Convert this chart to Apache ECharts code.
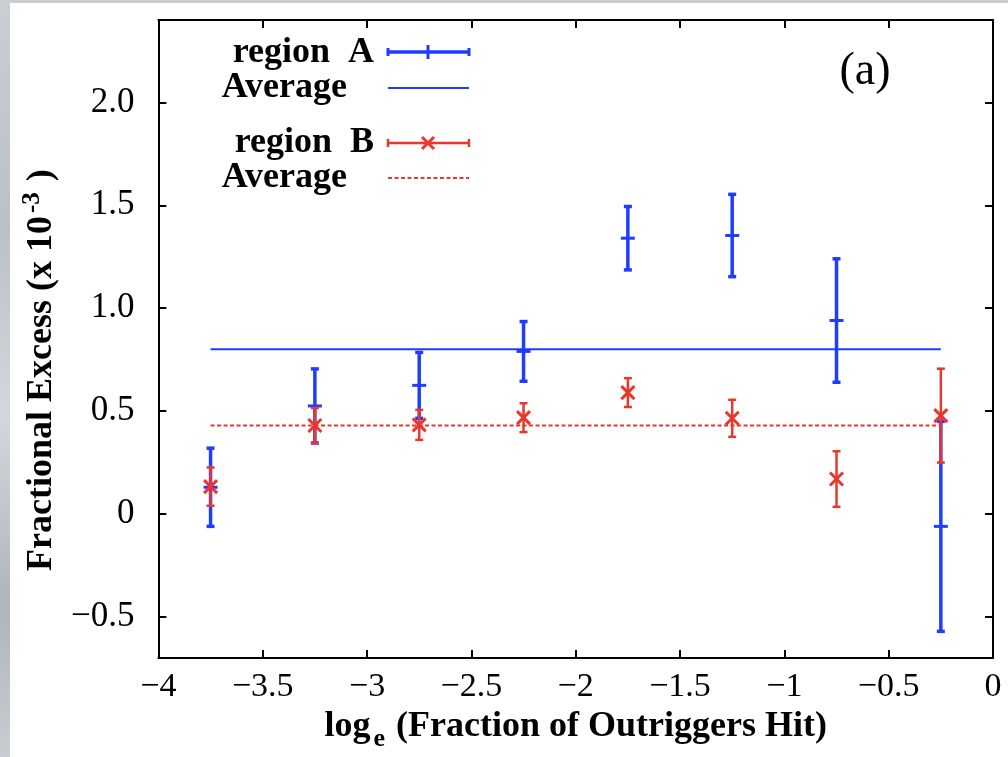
<!DOCTYPE html>
<html>
<head>
<meta charset="utf-8">
<script src="https://cdn.jsdelivr.net/npm/echarts@6/dist/echarts.min.js"></script>
<style>
  html, body { margin: 0; padding: 0; width: 1008px; height: 757px; overflow: hidden;
    background: linear-gradient(180deg, #c9ced3 0%, #b9c0c6 30%, #d3d7db 55%, #aeb5bb 80%, #c8cdd1 100%); }
  #chart { position: absolute; left: 10px; top: 3px; width: 998px; height: 754px; background: #ffffff; }
</style>
</head>
<body>
<div id="chart"></div>
<script>
// ---- data ----
const xValues    = [-3.75, -3.25, -2.75, -2.25, -1.75, -1.25, -0.75, -0.25];
const regionA    = [0.13, 0.525, 0.625, 0.79, 1.34, 1.353, 0.94, -0.06];
const regionAErr = [0.19, 0.18, 0.16, 0.145, 0.154, 0.2, 0.30, 0.51];
const regionB    = [0.133, 0.43, 0.433, 0.468, 0.59, 0.465, 0.17, 0.478];
const regionBErr = [0.093, 0.085, 0.073, 0.07, 0.07, 0.09, 0.135, 0.228];
const averageA = 0.80;
const averageB = 0.43;
const yTickValues = [-0.5, 0, 0.5, 1.0, 1.5, 2.0];
const yTickLabels = ['\u22120.5', '0', '0.5', '1.0', '1.5', '2.0'];

const BLUE = '#1f3dff';
const RED = '#e8372c';
const SERIF = '"Liberation Serif", "Times New Roman", serif';

const dataA = xValues.map((x, i) => [x, regionA[i], regionA[i] - regionAErr[i], regionA[i] + regionAErr[i]]);
const dataB = xValues.map((x, i) => [x, regionB[i], regionB[i] - regionBErr[i], regionB[i] + regionBErr[i]]);
const avgAData = [[xValues[0], averageA], [xValues[xValues.length - 1], averageA]];
const avgBData = [[xValues[0], averageB], [xValues[xValues.length - 1], averageB]];

function errRender(color, lw, capHalf, marker) {
  return function (params, api) {
    const x = api.value(0), y = api.value(1), lo = api.value(2), hi = api.value(3);
    const pc = api.coord([x, y]), pl = api.coord([x, lo]), ph = api.coord([x, hi]);
    const st = { stroke: color, lineWidth: lw };
    const children = [
      { type: 'line', shape: { x1: pl[0], y1: pl[1], x2: ph[0], y2: ph[1] }, style: st },
      { type: 'line', shape: { x1: pl[0] - capHalf, y1: pl[1], x2: pl[0] + capHalf, y2: pl[1] }, style: st },
      { type: 'line', shape: { x1: ph[0] - capHalf, y1: ph[1], x2: ph[0] + capHalf, y2: ph[1] }, style: st }
    ];
    if (marker === 'plus') {
      children.push({ type: 'line', shape: { x1: pc[0] - 7, y1: pc[1], x2: pc[0] + 7, y2: pc[1] }, style: { stroke: color, lineWidth: 3 } });
    } else {
      const s = 6.5;
      children.push({ type: 'line', shape: { x1: pc[0] - s, y1: pc[1] - s, x2: pc[0] + s, y2: pc[1] + s }, style: { stroke: color, lineWidth: 3 } });
      children.push({ type: 'line', shape: { x1: pc[0] - s, y1: pc[1] + s, x2: pc[0] + s, y2: pc[1] - s }, style: { stroke: color, lineWidth: 3 } });
    }
    return { type: 'group', children: children };
  };
}

const chart = echarts.init(document.getElementById('chart'), null, { renderer: 'canvas' });

const legendFont = { fontFamily: SERIF, fontWeight: 'bold', fontSize: 36, fill: '#000' };
const graphics = [
  { type: 'text', x: 364, y: 50, style: Object.assign({ text: 'region  A', align: 'right', verticalAlign: 'middle' }, legendFont) },
  { type: 'line', shape: { x1: 378, y1: 49, x2: 459, y2: 49 }, style: { stroke: BLUE, lineWidth: 3.5 } },
  { type: 'line', shape: { x1: 378, y1: 45, x2: 378, y2: 53 }, style: { stroke: BLUE, lineWidth: 3 } },
  { type: 'line', shape: { x1: 459, y1: 45, x2: 459, y2: 53 }, style: { stroke: BLUE, lineWidth: 3 } },
  { type: 'line', shape: { x1: 418, y1: 42, x2: 418, y2: 56 }, style: { stroke: BLUE, lineWidth: 3 } },
  { type: 'text', x: 337, y: 85, style: Object.assign({ text: 'Average', align: 'right', verticalAlign: 'middle' }, legendFont) },
  { type: 'line', shape: { x1: 378, y1: 85, x2: 459, y2: 85 }, style: { stroke: BLUE, lineWidth: 2 } },
  { type: 'text', x: 364, y: 140, style: Object.assign({ text: 'region  B', align: 'right', verticalAlign: 'middle' }, legendFont) },
  { type: 'line', shape: { x1: 378, y1: 140, x2: 459, y2: 140 }, style: { stroke: RED, lineWidth: 2.5 } },
  { type: 'line', shape: { x1: 378, y1: 136, x2: 378, y2: 144 }, style: { stroke: RED, lineWidth: 2.5 } },
  { type: 'line', shape: { x1: 459, y1: 136, x2: 459, y2: 144 }, style: { stroke: RED, lineWidth: 2.5 } },
  { type: 'line', shape: { x1: 412, y1: 134, x2: 424, y2: 146 }, style: { stroke: RED, lineWidth: 3 } },
  { type: 'line', shape: { x1: 412, y1: 146, x2: 424, y2: 134 }, style: { stroke: RED, lineWidth: 3 } },
  { type: 'text', x: 337, y: 175, style: Object.assign({ text: 'Average', align: 'right', verticalAlign: 'middle' }, legendFont) },
  { type: 'line', shape: { x1: 378, y1: 175, x2: 459, y2: 175 }, style: { stroke: RED, lineWidth: 2, lineDash: [4, 2.5] } },
  { type: 'text', x: 855, y: 69, style: { text: '(a)', align: 'center', verticalAlign: 'middle', fontFamily: SERIF, fontSize: 46, fill: '#000' } }
];

const option = {
  animation: false,
  backgroundColor: '#ffffff',
  grid: { left: 148, top: 17, right: 15, bottom: 97, show: false },
  xAxis: [
    {
      type: 'value', min: -4, max: 0, interval: 0.5, position: 'bottom',
      name: '{b|log}{s|e}{b| (Fraction of Outriggers Hit)}',
      nameLocation: 'middle', nameGap: 38,
      nameTextStyle: {
        rich: {
          b: { fontFamily: SERIF, fontWeight: 'bold', fontSize: 36, color: '#000', lineHeight: 38, verticalAlign: 'top' },
          s: { fontFamily: SERIF, fontWeight: 'bold', fontSize: 26, color: '#000', lineHeight: 26, verticalAlign: 'top', padding: [17, 2, 0, 3] }
        }
      },
      axisLine: { show: true, onZero: false, lineStyle: { color: '#000', width: 2 } },
      axisTick: { show: true, inside: true, length: 8, lineStyle: { color: '#000', width: 2 } },
      axisLabel: { show: true, margin: 12, fontFamily: SERIF, fontSize: 34, color: '#000',
        formatter: v => String(v).replace('-', '\u2212') },
      splitLine: { show: false }
    },
    {
      type: 'value', min: -4, max: 0, interval: 0.5, position: 'top',
      axisLine: { show: true, onZero: false, lineStyle: { color: '#000', width: 2 } },
      axisTick: { show: true, inside: true, length: 8, lineStyle: { color: '#000', width: 2 } },
      axisLabel: { show: false },
      splitLine: { show: false }
    }
  ],
  yAxis: [
    {
      type: 'value', min: -0.7, max: 2.4, position: 'left',
      name: '{b|Fractional Excess (x 10}{s|-3}{b| )}',
      nameLocation: 'middle', nameGap: 85,
      nameTextStyle: {
        padding: [0, 62, 0, 0],
        rich: {
          b: { fontFamily: SERIF, fontWeight: 'bold', fontSize: 36, color: '#000', lineHeight: 40, verticalAlign: 'bottom', padding: [6, 0, 0, 0] },
          s: { fontFamily: SERIF, fontWeight: 'bold', fontSize: 25, color: '#000', lineHeight: 25, verticalAlign: 'top', padding: [0, 2, 0, 3] }
        }
      },
      axisLine: { show: true, onZero: false, lineStyle: { color: '#000', width: 2 } },
      axisTick: { show: true, inside: true, length: 8, customValues: yTickValues, lineStyle: { color: '#000', width: 2 } },
      axisLabel: { show: true, margin: 24, fontFamily: SERIF, fontSize: 35, color: '#000', customValues: yTickValues,
        formatter: v => { const i = yTickValues.findIndex(t => Math.abs(t - v) < 1e-9); return i >= 0 ? yTickLabels[i] : ''; } },
      splitLine: { show: false }
    },
    {
      type: 'value', min: -0.7, max: 2.4, position: 'right',
      axisLine: { show: true, onZero: false, lineStyle: { color: '#000', width: 2 } },
      axisTick: { show: true, inside: true, length: 8, customValues: yTickValues, lineStyle: { color: '#000', width: 2 } },
      axisLabel: { show: false },
      splitLine: { show: false }
    }
  ],
  graphic: graphics,
  series: [
    {
      name: 'region A', type: 'custom', xAxisIndex: 0, yAxisIndex: 0,
      renderItem: errRender(BLUE, 3.5, 4, 'plus'),
      encode: { x: 0, y: [1, 2, 3] },
      data: dataA, z: 2
    },
    {
      name: 'Average A', type: 'line', xAxisIndex: 0, yAxisIndex: 0,
      data: avgAData, symbol: 'none', lineStyle: { color: BLUE, width: 2 }, z: 3
    },
    {
      name: 'region B', type: 'custom', xAxisIndex: 0, yAxisIndex: 0,
      renderItem: errRender(RED, 2.5, 4, 'cross'),
      encode: { x: 0, y: [1, 2, 3] },
      data: dataB, z: 4
    },
    {
      name: 'Average B', type: 'line', xAxisIndex: 0, yAxisIndex: 0,
      data: avgBData, symbol: 'none', lineStyle: { color: RED, width: 2, type: [4, 2.5] }, z: 5
    }
  ]
};
chart.setOption(option);
</script>
</body>
</html>
